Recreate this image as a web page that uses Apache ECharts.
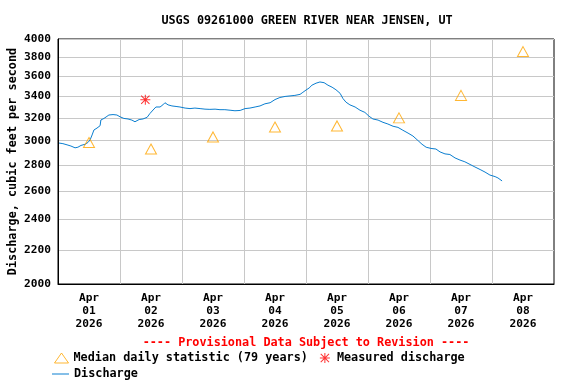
<!DOCTYPE html>
<html>
<head>
<meta charset="utf-8">
<script src="https://cdn.jsdelivr.net/npm/echarts@6/dist/echarts.min.js"></script>
<style>
html,body{margin:0;padding:0;background:#fff;}
#chart{width:576px;height:384px;}
</style>
</head>
<body>
<div id="chart"></div>
<script>
// Hours relative to 2026-04-01 00:00
const dischargeHours = [-11.6,-10.1,-8.5,-7.0,-5.4,-4.3,-3.1,-1.5,-0.4,0.4,1.2,1.9,3.1,4.3,4.6,5.8,6.6,7.7,9.3,10.8,12.0,13.5,15.1,16.6,17.8,19.4,20.9,22.5,23.6,24.8,25.9,27.5,28.6,29.4,30.6,32.1,33.7,35.2,37.2,39.1,41.0,43.0,44.9,46.8,48.8,50.7,52.6,54.6,56.5,58.5,60.4,62.3,64.3,66.2,68.1,70.1,72.0,73.9,75.9,77.8,79.7,81.7,82.8,84.0,85.2,86.3,87.9,89.4,91.0,92.5,94.1,95.6,97.2,98.3,99.5,101.0,103.0,104.9,106.8,108.4,109.9,111.9,113.8,115.7,117.7,119.6,121.5,123.5,125.4,127.4,128.9,130.5,132.4,134.3,135.9,137.8,139.7,141.7,143.6,145.5,147.5,149.4,151.4,153.3,155.2,157.2,158.3,159.9];
const dischargeCfs = [2980,2975,2965,2955,2940,2945,2960,2970,2985,3006,3049,3092,3109,3130,3181,3195,3208,3226,3230,3226,3210,3195,3190,3180,3165,3185,3190,3205,3240,3272,3300,3300,3320,3340,3320,3310,3305,3300,3290,3285,3290,3285,3280,3278,3280,3275,3275,3270,3265,3268,3285,3290,3300,3310,3330,3340,3370,3390,3400,3405,3410,3420,3440,3462,3482,3510,3530,3542,3535,3510,3490,3465,3430,3380,3345,3320,3300,3270,3250,3215,3190,3180,3160,3145,3125,3115,3090,3065,3040,3000,2970,2945,2935,2930,2906,2890,2885,2857,2840,2826,2805,2785,2765,2745,2722,2710,2700,2677];
const medianHours = [0,24,48,72,96,120,144,168];
const medianCfs = [2985,2930,3032,3118,3128,3200,3410,3860];
const measuredHours = [21.8];
const measuredCfs = [3368];
const dayLabelHours = [0,24,48,72,96,120,144,168];
const dayLabels = ['Apr\n01\n2026','Apr\n02\n2026','Apr\n03\n2026','Apr\n04\n2026','Apr\n05\n2026','Apr\n06\n2026','Apr\n07\n2026','Apr\n08\n2026'];
const gridHours = [12,36,60,84,108,132,156];
const yTicks = [2000,2200,2400,2600,2800,3000,3200,3400,3600,3800,4000];

const FONT = 'DejaVu Sans Mono';
const asteriskPath = 'path://M0,4.5L10,4.5L10,5.5L0,5.5Z M4.5,0L5.5,0L5.5,10L4.5,10Z M1.2,0.5L9.5,8.8L8.8,9.5L0.5,1.2Z M8.8,0.5L9.5,1.2L1.2,9.5L0.5,8.8Z';
const lineIconPath = 'path://M0,0L17,0L17,1L0,1Z';

const chart = echarts.init(document.getElementById('chart'), null, {renderer:'canvas'});
const option = {
  animation: false,
  backgroundColor: '#fff',
  grid: {left: 58, right: 22, top: 39, bottom: 100, containLabel: false, outerBoundsMode: 'none', show: true, borderColor: '#000', borderWidth: 1, backgroundColor: 'transparent'},
  xAxis: {
    type: 'value', min: -12, max: 180,
    axisLine: {show: true, onZero: false, lineStyle: {color: '#000', width: 1}},
    axisTick: {show: false, customValues: gridHours},
    splitLine: {show: true, lineStyle: {color: '#c8c8c8', width: 1}},
    axisLabel: {
      customValues: dayLabelHours,
      formatter: function (v) { const i = dayLabelHours.indexOf(Math.round(v)); return i >= 0 ? dayLabels[i] : ''; },
      color: '#000', fontFamily: FONT, fontWeight: 'bold', fontSize: 11.2, lineHeight: 13, margin: 8
    }
  },
  yAxis: {
    type: 'log', logBase: 10, min: 2000, max: 4000,
    name: 'Discharge, cubic feet per second', nameLocation: 'middle', nameGap: 39, nameMoveOverlap: false,
    nameTextStyle: {color: '#000', fontFamily: FONT, fontWeight: 'bold', fontSize: 11.8},
    axisLine: {show: true, onZero: false, lineStyle: {color: '#000', width: 1}},
    axisTick: {show: false, customValues: yTicks},
    splitLine: {show: true, lineStyle: {color: '#c8c8c8', width: 1}},
    axisLabel: {customValues: yTicks, color: '#000', fontFamily: FONT, fontWeight: 'bold', fontSize: 11.2, margin: 7,
      formatter: function (v) { return String(Math.round(v)); }}
  },
  legend: [
    {
      left: 54, top: 352, padding: 0, itemWidth: 14, itemHeight: 10, itemGap: 12, selectedMode: false,
      textStyle: {color: '#000', fontFamily: FONT, fontWeight: 'bold', fontSize: 11.8},
      data: [
        {name: 'Median daily statistic (79 years)', icon: 'triangle', itemStyle: {color: 'rgba(0,0,0,0)', borderColor: '#ffa500', borderWidth: 1}},
        {name: 'Measured discharge', icon: asteriskPath, itemStyle: {color: '#ff0000', borderWidth: 0}}
      ]
    },
    {
      left: 52, top: 368, padding: 0, itemWidth: 17, itemHeight: 10, selectedMode: false,
      textStyle: {color: '#000', fontFamily: FONT, fontWeight: 'bold', fontSize: 11.8},
      data: [{name: 'Discharge', icon: lineIconPath, itemStyle: {color: '#0a7ed0', borderWidth: 0}}]
    }
  ],
  graphic: [
    {type: 'text', x: 307, y: 21, style: {text: 'USGS 09261000 GREEN RIVER NEAR JENSEN, UT', fill: '#000', font: 'bold 11.8px "DejaVu Sans Mono"', align: 'center', verticalAlign: 'middle'}},
    {type: 'text', x: 306, y: 343, style: {text: '---- Provisional Data Subject to Revision ----', fill: '#ff0000', font: 'bold 11.8px "DejaVu Sans Mono"', align: 'center', verticalAlign: 'middle'}}
  ],
  series: [
    {
      name: 'Discharge', type: 'line', symbol: 'none', showSymbol: false, z: 3,
      lineStyle: {color: '#0a7ed0', width: 1}, itemStyle: {color: '#0a7ed0'},
      data: dischargeHours.map((h, i) => [h, dischargeCfs[i]])
    },
    {
      name: 'Median daily statistic (79 years)', type: 'scatter', symbol: 'triangle', symbolSize: [11, 10], z: 4,
      itemStyle: {color: 'rgba(0,0,0,0)', borderColor: '#ffa500', borderWidth: 1},
      data: medianHours.map((h, i) => [h, medianCfs[i]])
    },
    {
      name: 'Measured discharge', type: 'scatter', symbol: asteriskPath, symbolSize: 10, z: 5,
      itemStyle: {color: '#ff0000'},
      data: measuredHours.map((h, i) => [h, measuredCfs[i]])
    }
  ]
};
chart.setOption(option);
</script>
</body>
</html>
